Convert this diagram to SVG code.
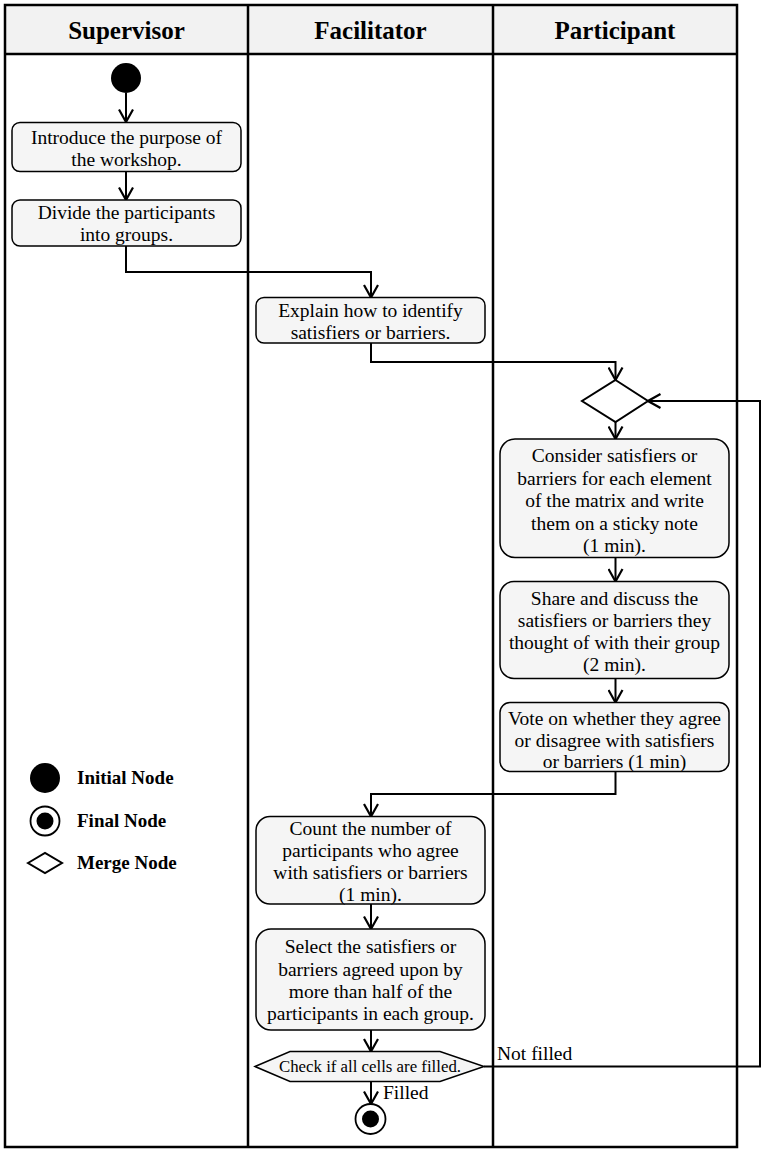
<svg xmlns="http://www.w3.org/2000/svg" width="765" height="1153" viewBox="0 0 765 1153">
<style>
.lane{fill:none;stroke:#000;stroke-width:2.5}
.hdr{font-family:"Liberation Serif","Times New Roman",serif;font-weight:bold;font-size:25px;text-anchor:middle;fill:#000}
.box{fill:#f5f5f5;stroke:#000;stroke-width:1.5}
.t{font-family:"Liberation Serif","Times New Roman",serif;font-size:19.5px;text-anchor:middle;fill:#000}
.lbl{font-family:"Liberation Serif","Times New Roman",serif;font-size:19.5px;fill:#000}
.leg{font-family:"Liberation Serif","Times New Roman",serif;font-weight:bold;font-size:19px;fill:#000}
.c{fill:none;stroke:#000;stroke-width:2;marker-end:url(#arr)}
</style>
<defs>
<marker id="arr" viewBox="0 0 16 16" refX="14" refY="8" markerWidth="16" markerHeight="16" markerUnits="userSpaceOnUse" orient="auto">
<path d="M1.5,1 L14,8 L1.5,15" fill="none" stroke="#000" stroke-width="2.2"/>
</marker>
</defs>
<rect width="765" height="1153" fill="#fff"/>
<g id="swimlanes">
<rect x="5" y="5" width="732" height="49" fill="#f2f2f2"/>
<rect class="lane" x="5" y="5" width="732" height="1142"/>
<line class="lane" x1="5" y1="54" x2="737" y2="54"/>
<line class="lane" x1="248" y1="5" x2="248" y2="1147"/>
<line class="lane" x1="493" y1="5" x2="493" y2="1147"/>
<text class="hdr" x="126.5" y="39">Supervisor</text>
<text class="hdr" x="370.5" y="39">Facilitator</text>
<text class="hdr" x="615" y="39">Participant</text>
</g>
<g id="connectors">
<path class="c" d="M126,93 L126,122"/>
<path class="c" d="M126,171.5 L126,200"/>
<path class="c" d="M126,246 L126,272 L371,272 L371,297.5"/>
<path class="c" d="M371,343 L371,362 L615.5,362 L615.5,380"/>
<path class="c" d="M615.5,422 L615.5,439"/>
<path class="c" d="M615.5,557.5 L615.5,581.5"/>
<path class="c" d="M615.5,678.5 L615.5,702.5"/>
<path class="c" d="M615.5,771.5 L615.5,794 L371,794 L371,816.5"/>
<path class="c" d="M371,904 L371,929"/>
<path class="c" d="M371,1030 L371,1051.5"/>
<path class="c" d="M371,1082 L371,1104"/>
<path class="c" d="M484,1066.5 L760,1066.5 L760,401 L648,401"/>
<text class="lbl" x="497" y="1060">Not filled</text>
<text class="lbl" x="383" y="1099">Filled</text>
</g>
<g id="initial">
<circle cx="126" cy="78" r="15" fill="#000"/>
</g>
<g id="introduce">
<rect class="box" x="12" y="122.5" width="229" height="49" rx="8"/>
<text class="t" x="126.5" y="144">Introduce the purpose of</text>
<text class="t" x="126.5" y="166">the workshop.</text>
</g>
<g id="divide">
<rect class="box" x="12" y="200" width="229" height="46" rx="8"/>
<text class="t" x="126.5" y="219">Divide the participants</text>
<text class="t" x="126.5" y="241">into groups.</text>
</g>
<g id="explain">
<rect class="box" x="256" y="297.5" width="229" height="45.5" rx="8"/>
<text class="t" x="370.5" y="317">Explain how to identify</text>
<text class="t" x="370.5" y="339">satisfiers or barriers.</text>
</g>
<g id="merge">
<polygon points="615.5,380 648,401 615.5,422 582,401" fill="#fff" stroke="#000" stroke-width="2"/>
</g>
<g id="consider">
<rect class="box" x="500" y="439" width="229" height="118.5" rx="15"/>
<text class="t" x="614.5" y="462">Consider satisfiers or</text>
<text class="t" x="614.5" y="484.5">barriers for each element</text>
<text class="t" x="614.5" y="507">of the matrix and write</text>
<text class="t" x="614.5" y="529.5">them on a sticky note</text>
<text class="t" x="614.5" y="552">(1 min).</text>
</g>
<g id="share">
<rect class="box" x="500" y="581.5" width="229" height="97" rx="14"/>
<text class="t" x="614.5" y="605">Share and discuss the</text>
<text class="t" x="614.5" y="627">satisfiers or barriers they</text>
<text class="t" x="614.5" y="649">thought of with their group</text>
<text class="t" x="614.5" y="671">(2 min).</text>
</g>
<g id="vote">
<rect class="box" x="500" y="702.5" width="229" height="69" rx="10"/>
<text class="t" x="614.5" y="725">Vote on whether they agree</text>
<text class="t" x="614.5" y="747">or disagree with satisfiers</text>
<text class="t" x="614.5" y="768">or barriers (1 min)</text>
</g>
<g id="count">
<rect class="box" x="256" y="816.5" width="229" height="87.5" rx="14"/>
<text class="t" x="370.5" y="835">Count the number of</text>
<text class="t" x="370.5" y="857">participants who agree</text>
<text class="t" x="370.5" y="879">with satisfiers or barriers</text>
<text class="t" x="370.5" y="901">(1 min).</text>
</g>
<g id="select">
<rect class="box" x="256" y="929" width="229" height="101" rx="15"/>
<text class="t" x="370.5" y="953">Select the satisfiers or</text>
<text class="t" x="370.5" y="976">barriers agreed upon by</text>
<text class="t" x="370.5" y="998">more than half of the</text>
<text class="t" x="370.5" y="1020">participants in each group.</text>
</g>
<g id="check">
<polygon class="box" points="255,1066.5 290,1051.5 440,1051.5 484,1066.5 440,1081.5 290,1081.5"/>
<text x="370" y="1072" font-family="'Liberation Serif','Times New Roman',serif" font-size="17" text-anchor="middle" textLength="182" lengthAdjust="spacingAndGlyphs">Check if all cells are filled.</text>
</g>
<g id="final">
<circle cx="370.5" cy="1119" r="15" fill="#fff" stroke="#000" stroke-width="1.8"/>
<circle cx="370.5" cy="1119" r="8.5" fill="#000"/>
</g>
<g id="legend">
<circle cx="45" cy="778" r="15" fill="#000"/>
<text class="leg" x="77" y="784">Initial Node</text>
<circle cx="45" cy="821" r="14.5" fill="#fff" stroke="#000" stroke-width="1.8"/>
<circle cx="45" cy="821" r="8.5" fill="#000"/>
<text class="leg" x="77" y="827">Final Node</text>
<polygon points="28,863 45,853 62,863 45,873" fill="#fff" stroke="#000" stroke-width="2"/>
<text class="leg" x="77" y="869">Merge Node</text>
</g>
</svg>
